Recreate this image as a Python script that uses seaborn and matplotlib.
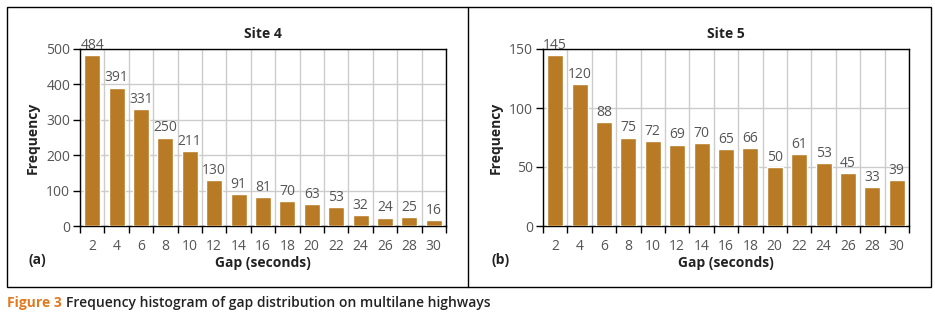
import matplotlib.pyplot as plt
import seaborn as sns
import pandas as pd
from matplotlib.patches import Rectangle
from matplotlib.lines import Line2D

gaps = [2, 4, 6, 8, 10, 12, 14, 16, 18, 20, 22, 24, 26, 28, 30]
site4_freq = [484, 391, 331, 250, 211, 130, 91, 81, 70, 63, 53, 32, 24, 25, 16]
site5_freq = [145, 120, 88, 75, 72, 69, 70, 65, 66, 50, 61, 53, 45, 33, 39]
site4_yticks = [0, 100, 200, 300, 400, 500]
site5_yticks = [0, 50, 100, 150]

BAR_COLOR = '#b87a24'
TEXT_COLOR = '#555555'

sns.set_theme(style='white')
plt.rcParams['font.family'] = ['Open Sans', 'DejaVu Sans']

fig = plt.figure(figsize=(9.35, 3.19), dpi=100)
W, H = 935, 319


def ax_rect(x0, y0, x1, y1):
    return [x0 / W, 1 - y1 / H, (x1 - x0) / W, (y1 - y0) / H]


def draw_panel(ax, values, yticks, title, letter):
    df = pd.DataFrame({'gap': [str(g) for g in gaps], 'freq': values})
    sns.barplot(data=df, x='gap', y='freq', color=BAR_COLOR, width=0.65,
                saturation=1, ax=ax, zorder=3)
    ax.set_xlim(-0.5, len(gaps) - 0.5)
    ax.set_ylim(0, yticks[-1])
    ax.set_yticks(yticks)
    ax.set_xticks(range(len(gaps)))
    ax.set_xticklabels([str(g) for g in gaps])
    ax.set_xticks([i - 0.5 for i in range(len(gaps) + 1)], minor=True)
    ax.tick_params(axis='x', which='major', length=0, pad=9, labelsize=10, labelcolor=TEXT_COLOR)
    ax.tick_params(axis='x', which='minor', length=5, width=1, color='black', direction='out', bottom=True)
    ax.tick_params(axis='y', length=5, width=1, color='black', direction='out', left=True,
                   labelsize=10, labelcolor=TEXT_COLOR, pad=2)
    ax.grid(axis='x', which='minor', color='#cccccc', linewidth=1, zorder=0)
    ax.grid(axis='y', which='major', color='#cccccc', linewidth=1, zorder=0)
    ax.set_axisbelow(True)
    for spine in ax.spines.values():
        spine.set_color('black')
        spine.set_linewidth(1)
    for i, v in enumerate(values):
        ax.text(i, v + yticks[-1] * 0.012, str(v), ha='center', va='bottom',
                fontsize=10, color=TEXT_COLOR, zorder=4)
    ax.set_title(title, fontsize=10, fontweight='bold', color='#222222', pad=8)
    ax.set_xlabel('Gap (seconds)', fontsize=10, fontweight='bold', color='#222222', labelpad=2)
    ax.set_ylabel('Frequency', fontsize=10, fontweight='bold', color='#222222', labelpad=5)
    ax.text(-0.142, -0.19, letter, transform=ax.transAxes, fontsize=10,
            fontweight='bold', color='#222222', ha='left', va='center')


ax1 = fig.add_axes(ax_rect(80, 49, 446, 226))
ax2 = fig.add_axes(ax_rect(543, 49, 909, 226))
draw_panel(ax1, site4_freq, site4_yticks, 'Site 4', '(a)')
draw_panel(ax2, site5_freq, site5_yticks, 'Site 5', '(b)')

# outer frame and divider
fig.patches.append(Rectangle((7 / W, 1 - 287 / H), (931 - 7) / W, (287 - 7) / H,
                             transform=fig.transFigure, fill=False,
                             edgecolor='black', linewidth=1))
fig.lines.append(Line2D([468 / W, 468 / W], [1 - 287 / H, 1 - 7 / H],
                        transform=fig.transFigure, color='black', linewidth=1))

# caption
cap_y = 1 - 303 / H
t1 = fig.text(7 / W, cap_y, 'Figure 3', color='#e07b22', fontsize=10,
              fontweight='bold', va='center', ha='left')
fig.canvas.draw()
bb = t1.get_window_extent()
fig.text(bb.x1 / W + 4 / W, cap_y,
         'Frequency histogram of gap distribution on multilane highways',
         color='#222222', fontsize=10, fontweight='semibold', va='center', ha='left')

fig.savefig('out.png', dpi=100)
